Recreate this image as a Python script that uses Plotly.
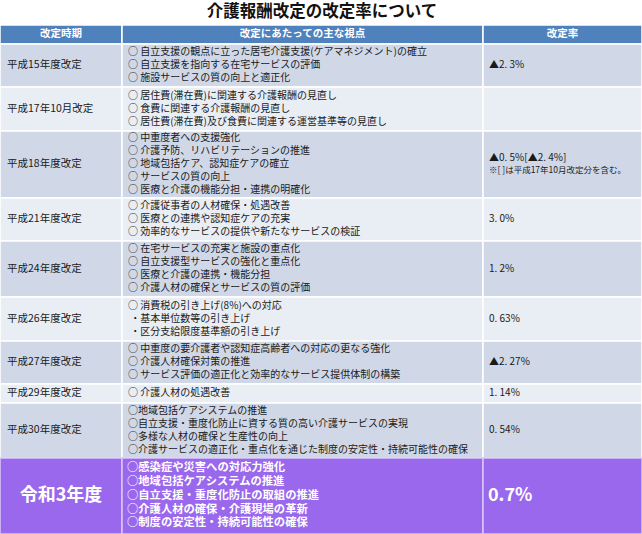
import plotly.graph_objects as go

WIDTH = 642
HEIGHT = 534

TITLE = "介護報酬改定の改定率について"
HEADERS = ["改定時期", "改定にあたっての主な視点", "改定率"]

periods = [
    "平成15年度改定",
    "平成17年10月改定",
    "平成18年度改定",
    "平成21年度改定",
    "平成24年度改定",
    "平成26年度改定",
    "平成27年度改定",
    "平成29年度改定",
    "平成30年度改定",
]

viewpoints = [
    ["○ 自立支援の観点に立った居宅介護支援(ケアマネジメント)の確立",
     "○ 自立支援を指向する在宅サービスの評価",
     "○ 施設サービスの質の向上と適正化"],
    ["○ 居住費(滞在費)に関連する介護報酬の見直し",
     "○ 食費に関連する介護報酬の見直し",
     "○ 居住費(滞在費)及び食費に関連する運営基準等の見直し"],
    ["○ 中重度者への支援強化",
     "○ 介護予防、リハビリテーションの推進",
     "○ 地域包括ケア、認知症ケアの確立",
     "○ サービスの質の向上",
     "○ 医療と介護の機能分担・連携の明確化"],
    ["○ 介護従事者の人材確保・処遇改善",
     "○ 医療との連携や認知症ケアの充実",
     "○ 効率的なサービスの提供や新たなサービスの検証"],
    ["○ 在宅サービスの充実と施設の重点化",
     "○ 自立支援型サービスの強化と重点化",
     "○ 医療と介護の連携・機能分担",
     "○ 介護人材の確保とサービスの質の評価"],
    ["○ 消費税の引き上げ(8%)への対応",
     " ・基本単位数等の引き上げ",
     " ・区分支給限度基準額の引き上げ"],
    ["○ 中重度の要介護者や認知症高齢者への対応の更なる強化",
     "○ 介護人材確保対策の推進",
     "○ サービス評価の適正化と効率的なサービス提供体制の構築"],
    ["○ 介護人材の処遇改善"],
    ["○地域包括ケアシステムの推進",
     "○自立支援・重度化防止に資する質の高い介護サービスの実現",
     "○多様な人材の確保と生産性の向上",
     "○介護サービスの適正化・重点化を通じた制度の安定性・持続可能性の確保"],
]

rates = ["▲2. 3%", "", "▲0. 5%[▲2. 4%]", "3. 0%", "1. 2%",
         "0. 63%", "▲2. 27%", "1. 14%", "0. 54%"]
rate_note = "※[ ]は平成17年10月改定分を含む。"
rate_note_row = 2

latest_period = "令和3年度"
latest_viewpoints = [
    "○感染症や災害への対応力強化",
    "○地域包括ケアシステムの推進",
    "○自立支援・重度化防止の取組の推進",
    "○介護人材の確保・介護現場の革新",
    "○制度の安定性・持続可能性の確保",
]
latest_rate = "0.7%"

# layout (pixel coordinates on the hidden axes)
ROW_EDGES = [25, 44, 87, 131, 198, 241, 297, 341, 384, 403, 458, 534]
COL_EDGES = [0, 122, 483, 642]
HEADER_BLUE = "#4f81bd"
BAND_DARK = "#d0d8e8"
BAND_LIGHT = "#e9edf4"
PURPLE = "#9a68ec"
FONT = "Noto Sans CJK JP"
TEXT_COLOR = "#1a1a1a"

fig = go.Figure()
shapes = []


def rect(x0, x1, y0, y1, fill, line="white", lw=1.5):
    shapes.append(dict(type="rect", xref="x", yref="y", x0=x0, x1=x1, y0=y0, y1=y1,
                       fillcolor=fill, line=dict(color=line, width=lw), layer="below"))


# header
for c in range(3):
    rect(COL_EDGES[c], COL_EDGES[c + 1], ROW_EDGES[0], ROW_EDGES[1], HEADER_BLUE)

# body rows
for r in range(len(periods)):
    fill = BAND_DARK if r % 2 == 0 else BAND_LIGHT
    for c in range(3):
        rect(COL_EDGES[c], COL_EDGES[c + 1], ROW_EDGES[r + 1], ROW_EDGES[r + 2], fill)

# latest row
for c in range(3):
    rect(COL_EDGES[c], COL_EDGES[c + 1], ROW_EDGES[-2], ROW_EDGES[-1], PURPLE,
         line="#d9c8f7", lw=1.5)


def add_text(xs, ys, texts, size, color, pos="middle right"):
    fig.add_trace(go.Scatter(x=xs, y=ys, text=texts, mode="text", textposition=pos,
                             textfont=dict(family=FONT, size=size, color=color),
                             hoverinfo="skip", showlegend=False, cliponaxis=False))


# title
add_text([322], [13], ["<b>" + TITLE + "</b>"], 16.5, "#111111", "middle center")

# header labels
hx = [(COL_EDGES[c] + COL_EDGES[c + 1]) / 2 for c in range(3)]
hy = (ROW_EDGES[0] + ROW_EDGES[1]) / 2
add_text(hx, [hy] * 3, ["<b>" + h + "</b>" for h in HEADERS], 10.5, "white", "middle center")

LINE_GAP = 13
px, py, vx, vy, vt, rx, ry, rt = [], [], [], [], [], [], [], []
for r, name in enumerate(periods):
    top, bot = ROW_EDGES[r + 1], ROW_EDGES[r + 2]
    mid = (top + bot) / 2
    px.append(7)
    py.append(mid)
    lines = viewpoints[r]
    n = len(lines)
    for k, ln in enumerate(lines):
        vx.append(128)
        vy.append(mid + (k - (n - 1) / 2) * LINE_GAP)
        vt.append(ln)
    if rates[r]:
        rx.append(489)
        ry.append(mid - 6.5 if r == rate_note_row else mid)
        rt.append(rates[r])

add_text(px, py, periods, 10.5, TEXT_COLOR)
add_text(vx, vy, vt, 10, TEXT_COLOR)
add_text(rx, ry, rt, 10, TEXT_COLOR)
note_mid = (ROW_EDGES[rate_note_row + 1] + ROW_EDGES[rate_note_row + 2]) / 2
add_text([489], [note_mid + 6.5], [rate_note], 8.5, TEXT_COLOR)

# latest row text
top, bot = ROW_EDGES[-2], ROW_EDGES[-1]
mid = (top + bot) / 2
add_text([61], [mid], ["<b>" + latest_period + "</b>"], 18, "white", "middle center")
n = len(latest_viewpoints)
add_text([127] * n, [mid + (k - (n - 1) / 2) * 13.8 for k in range(n)],
         ["<b>" + t + "</b>" for t in latest_viewpoints], 11.3, "white")
add_text([488], [mid], ["<b>" + latest_rate + "</b>"], 18, "white")

fig.update_layout(
    width=WIDTH, height=HEIGHT,
    margin=dict(l=0, r=0, t=0, b=0),
    paper_bgcolor="white", plot_bgcolor="white",
    shapes=shapes,
    xaxis=dict(range=[0, WIDTH], visible=False, fixedrange=True),
    yaxis=dict(range=[HEIGHT, 0], visible=False, fixedrange=True),
)

fig.write_html("out.html", config={"displayModeBar": False},
               post_script="document.body.style.margin='0';")
